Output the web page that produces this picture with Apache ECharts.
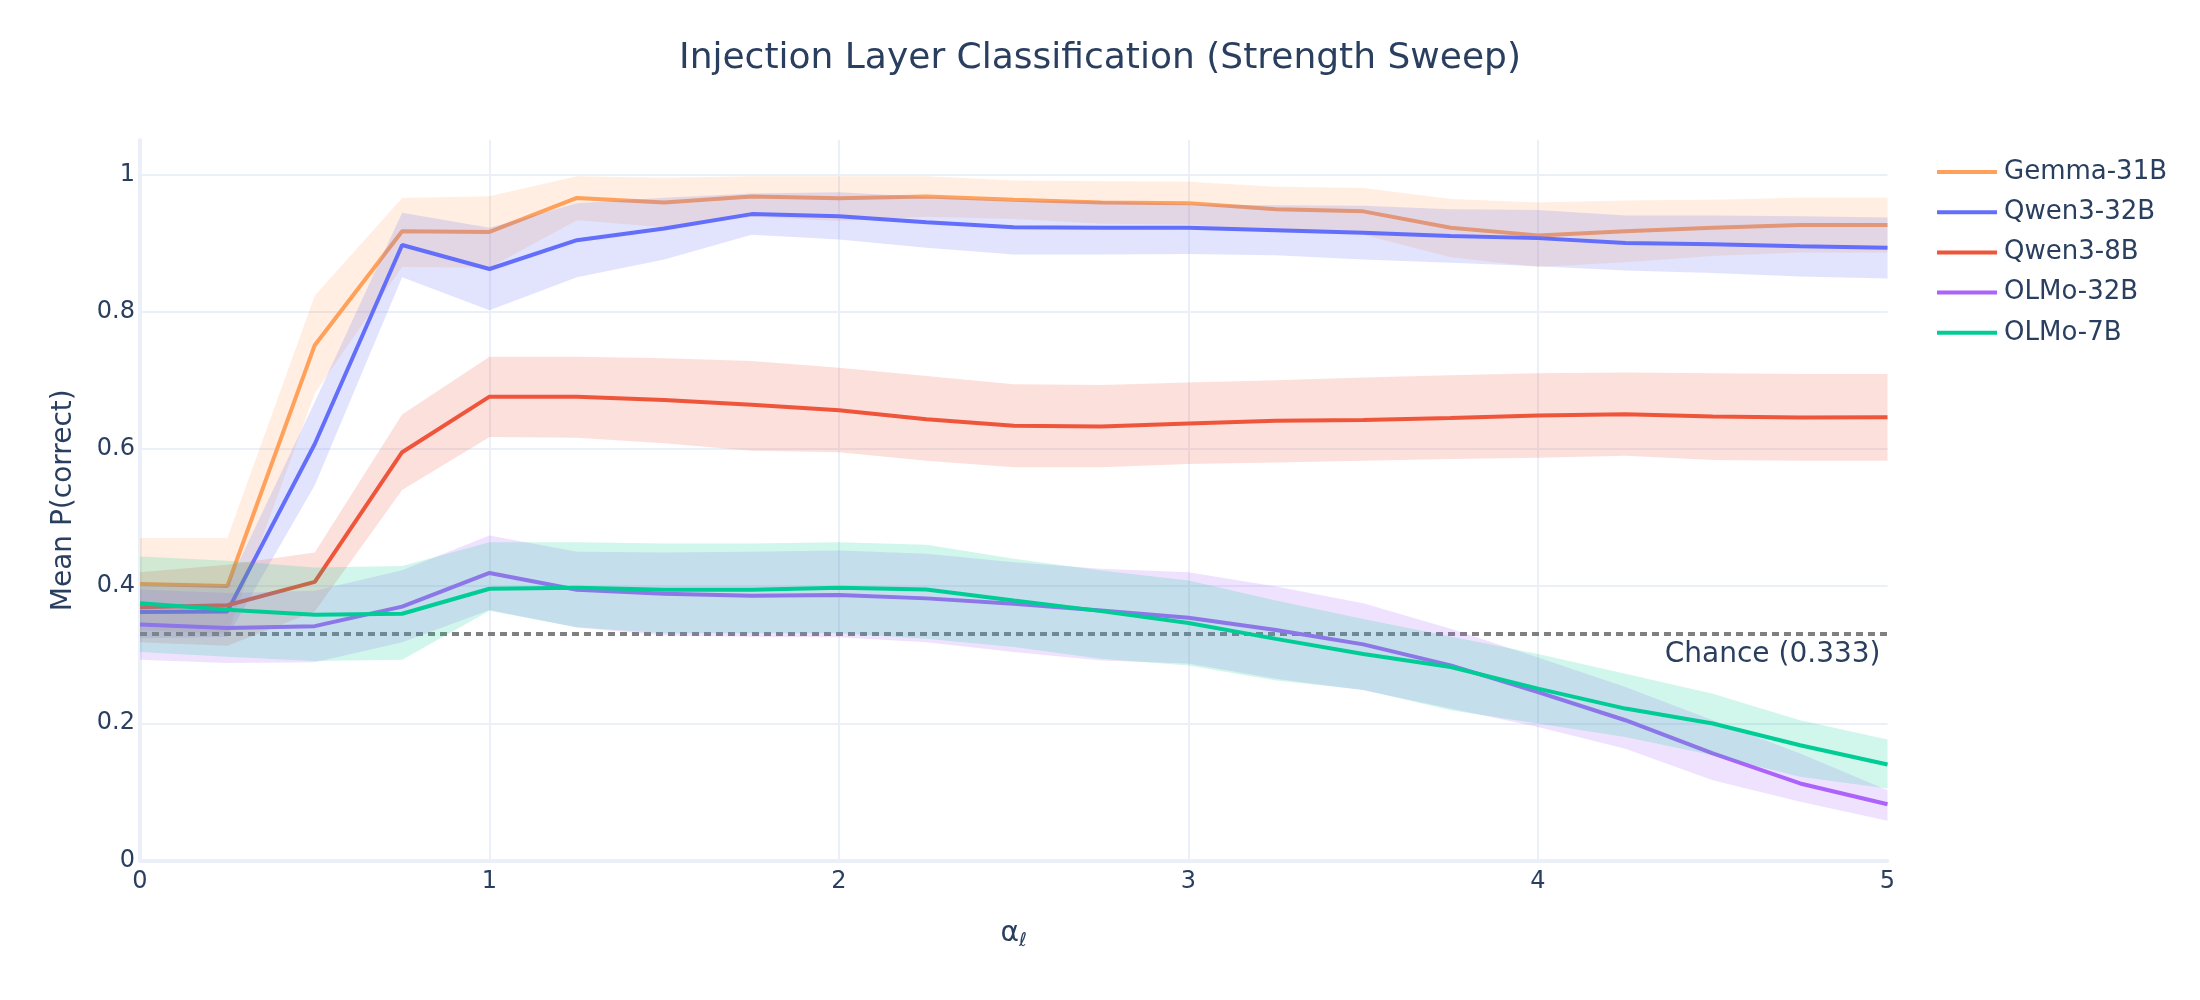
<!DOCTYPE html>
<html><head><meta charset="utf-8">
<script src="https://cdn.jsdelivr.net/npm/echarts@6/dist/echarts.min.js"></script>
<style>html,body{margin:0;padding:0;background:#fff}#c{width:2200px;height:1000px}</style>
</head><body><div id="c"></div>
<script>
const alphaSteps = [0,0.25,0.5,0.75,1,1.25,1.5,1.75,2,2.25,2.5,2.75,3,3.25,3.5,3.75,4,4.25,4.5,4.75,5];
const modelNames = ['Gemma-31B','Qwen3-32B','Qwen3-8B','OLMo-32B','OLMo-7B'];
const modelColors = ['#FFA15A','#636EFA','#EF553B','#AB63FA','#00CC96'];
const bandFills = ['rgba(255,161,90,0.18)','rgba(99,110,250,0.19)','rgba(239,85,59,0.18)','rgba(171,99,250,0.19)','rgba(0,204,150,0.18)'];

const gemmaMean = [0.403,0.400,0.751,0.917,0.916,0.9655,0.959,0.9675,0.965,0.9675,0.963,0.959,0.958,0.949,0.946,0.922,0.911,0.917,0.922,0.926,0.926];
const gemmaUpper = [0.470,0.470,0.823,0.9655,0.968,0.997,0.995,0.997,0.997,0.997,0.991,0.990,0.989,0.982,0.980,0.964,0.959,0.962,0.963,0.966,0.966];
const gemmaLower = [0.336,0.330,0.681,0.865,0.864,0.933,0.923,0.938,0.932,0.938,0.935,0.928,0.927,0.916,0.912,0.879,0.865,0.872,0.881,0.886,0.886];

const qwen32Mean = [0.362,0.363,0.607,0.897,0.862,0.904,0.921,0.942,0.939,0.930,0.923,0.922,0.922,0.9185,0.915,0.910,0.907,0.900,0.898,0.895,0.893];
const qwen32Upper = [0.400,0.400,0.668,0.944,0.922,0.958,0.966,0.972,0.974,0.967,0.961,0.961,0.956,0.955,0.954,0.949,0.948,0.940,0.940,0.939,0.937];
const qwen32Lower = [0.324,0.326,0.547,0.850,0.802,0.850,0.876,0.912,0.905,0.893,0.883,0.883,0.884,0.882,0.876,0.871,0.866,0.860,0.856,0.851,0.848];

const qwen8Mean = [0.369,0.372,0.406,0.595,0.676,0.676,0.671,0.664,0.656,0.643,0.6335,0.6325,0.637,0.641,0.642,0.645,0.6485,0.6505,0.647,0.6455,0.646];
const qwen8Upper = [0.420,0.431,0.449,0.650,0.734,0.734,0.732,0.728,0.718,0.706,0.694,0.693,0.6965,0.700,0.704,0.707,0.710,0.711,0.710,0.709,0.709];
const qwen8Lower = [0.318,0.313,0.363,0.540,0.617,0.616,0.608,0.597,0.595,0.5825,0.573,0.573,0.578,0.580,0.5825,0.585,0.587,0.590,0.5835,0.5825,0.5825];

const olmo32Mean = [0.344,0.339,0.3415,0.370,0.419,0.3945,0.3886,0.386,0.387,0.382,0.374,0.3644,0.3537,0.336,0.315,0.2844,0.2455,0.2044,0.156,0.1123,0.082];
const olmo32Upper = [0.395,0.390,0.393,0.423,0.4735,0.450,0.449,0.450,0.4516,0.447,0.4346,0.425,0.420,0.3993,0.375,0.3377,0.296,0.253,0.2044,0.156,0.1025];
const olmo32Lower = [0.2927,0.288,0.289,0.318,0.365,0.3395,0.328,0.326,0.3255,0.318,0.3037,0.2916,0.287,0.265,0.248,0.2214,0.1946,0.163,0.117,0.0855,0.058];

const olmo7Mean = [0.375,0.3654,0.358,0.3596,0.396,0.3974,0.3945,0.3945,0.3974,0.395,0.379,0.3634,0.346,0.323,0.301,0.282,0.2505,0.2214,0.1996,0.168,0.140];
const olmo7Upper = [0.443,0.437,0.427,0.429,0.4637,0.4637,0.462,0.462,0.4637,0.460,0.4396,0.4226,0.408,0.379,0.352,0.3266,0.301,0.272,0.243,0.2044,0.1763];
const olmo7Lower = [0.304,0.297,0.2906,0.2927,0.364,0.340,0.331,0.331,0.331,0.323,0.311,0.294,0.284,0.2625,0.249,0.219,0.1996,0.180,0.1535,0.122,0.105];

const chanceLevel = 0.333;
const chanceLabel = 'Chance (0.333)';
const yTicks = [0,0.2,0.4,0.6,0.8,1];
const xTicks = [0,1,2,3,4,5];

const means = [gemmaMean,qwen32Mean,qwen8Mean,olmo32Mean,olmo7Mean];
const uppers = [gemmaUpper,qwen32Upper,qwen8Upper,olmo32Upper,olmo7Upper];
const lowers = [gemmaLower,qwen32Lower,qwen8Lower,olmo32Lower,olmo7Lower];

const FONT = 'DejaVu Sans';
const TXT = '#2a3f5f';
const GRID = '#EBF0F8';

function bandRenderer(i) {
  return function (params, api) {
    if (params.dataIndex !== 0) return null;
    const up = alphaSteps.map((x, j) => api.coord([x, uppers[i][j]]));
    const lo = alphaSteps.map((x, j) => api.coord([x, lowers[i][j]])).reverse();
    return {
      type: 'polygon',
      shape: { points: up.concat(lo) },
      style: { fill: bandFills[i], stroke: null },
      silent: true
    };
  };
}

const series = [];
modelNames.forEach((name, i) => {
  series.push({
    type: 'custom', name: name + ' band', silent: true,
    data: alphaSteps.map((x, j) => [x, lowers[i][j], uppers[i][j]]),
    encode: { x: 0, y: [1, 2] },
    renderItem: bandRenderer(i), z: 2 + 2 * i
  });
  series.push({
    type: 'line', name: name,
    data: alphaSteps.map((x, j) => [x, means[i][j]]),
    symbol: 'none', color: modelColors[i],
    lineStyle: { width: 4, color: modelColors[i] }, z: 3 + 2 * i
  });
});
series.push({
  type: 'line', name: 'chance', data: [], silent: true, z: 20,
  markLine: {
    symbol: 'none', silent: true, animation: false,
    lineStyle: { type: [7, 5], color: '#808080', width: 4 },
    label: { show: true, position: 'insideEndBottom', formatter: chanceLabel, fontSize: 28, color: TXT, fontFamily: FONT, distance: 7 },
    data: [{ yAxis: chanceLevel }]
  }
});

const chart = echarts.init(document.getElementById('c'), null, { renderer: 'canvas' });
chart.setOption({
  animation: false,
  backgroundColor: '#fff',
  textStyle: { fontFamily: FONT, color: TXT },
  title: {
    text: 'Injection Layer Classification (Strength Sweep)',
    left: 'center', top: 36,
    textStyle: { fontFamily: FONT, fontSize: 36, fontWeight: 'normal', color: TXT }
  },
  legend: {
    data: modelNames,
    orient: 'vertical', left: 1932, top: 152,
    icon: 'rect', itemWidth: 60, itemHeight: 4, itemGap: 10.2,
    textStyle: { fontFamily: FONT, fontSize: 26, color: TXT, lineHeight: 30, padding: [0, 0, 0, 2] }
  },
  grid: { left: 140, right: 312.5, top: 140, bottom: 139.5, containLabel: false },
  xAxis: {
    type: 'value', min: 0, max: 5, interval: 1,
    name: 'α{s|ℓ}', nameLocation: 'middle', nameGap: 57,
    nameTextStyle: { fontFamily: FONT, fontSize: 28, color: TXT,
      rich: { s: { fontFamily: FONT, fontSize: 19, fontStyle: 'italic', color: TXT, padding: [14, 0, 0, 0] } } },
    axisLine: { show: true, lineStyle: { color: GRID, width: 4 } },
    axisTick: { show: false },
    axisLabel: { fontSize: 24, color: TXT, fontFamily: FONT, margin: 9,
      formatter: v => xTicks.includes(v) ? String(v) : '' },
    splitLine: { show: true, showMinLine: false, showMaxLine: false, lineStyle: { color: GRID, width: 2 } }
  },
  yAxis: {
    type: 'value', min: 0, max: 1.05, interval: 0.2,
    name: 'Mean P(correct)', nameLocation: 'middle', nameGap: 62,
    nameTextStyle: { fontFamily: FONT, fontSize: 28, color: TXT },
    axisLine: { show: true, lineStyle: { color: GRID, width: 4 } },
    axisTick: { show: false },
    axisLabel: { fontSize: 24, color: TXT, fontFamily: FONT, margin: 5, showMaxLabel: false,
      formatter: v => { const t = yTicks.find(k => Math.abs(k - v) < 1e-9); return t === undefined ? '' : String(t); } },
    splitLine: { show: true, showMinLine: false, showMaxLine: false, lineStyle: { color: GRID, width: 2 } }
  },
  series: series
});
</script>
</body></html>
